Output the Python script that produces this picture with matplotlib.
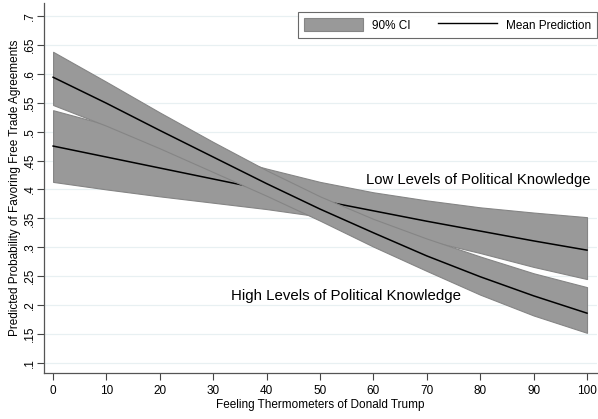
import matplotlib.pyplot as plt
from matplotlib.patches import Patch
from matplotlib.lines import Line2D

plt.rcParams['font.family'] = ['Liberation Sans', 'DejaVu Sans']

x = [0, 10, 20, 30, 40, 50, 60, 70, 80, 90, 100]

# low political knowledge
low_mean = [0.475, 0.456, 0.437, 0.418, 0.399, 0.381, 0.363, 0.345, 0.328, 0.311, 0.295]
low_upper = [0.537, 0.512, 0.487, 0.461, 0.436, 0.413, 0.395, 0.381, 0.369, 0.360, 0.352]
low_lower = [0.413, 0.400, 0.388, 0.377, 0.366, 0.353, 0.333, 0.312, 0.290, 0.266, 0.245]

# high political knowledge
high_mean = [0.594, 0.549, 0.502, 0.456, 0.410, 0.366, 0.325, 0.285, 0.249, 0.216, 0.186]
high_upper = [0.638, 0.586, 0.533, 0.482, 0.433, 0.388, 0.349, 0.315, 0.284, 0.255, 0.231]
high_lower = [0.546, 0.510, 0.471, 0.430, 0.389, 0.346, 0.301, 0.259, 0.218, 0.182, 0.152]

yticks = [0.1, 0.15, 0.2, 0.25, 0.3, 0.35, 0.4, 0.45, 0.5, 0.55, 0.6, 0.65, 0.7]
ytick_labels = ['.1', '.15', '.2', '.25', '.3', '.35', '.4', '.45', '.5', '.55', '.6', '.65', '.7']
xticks = [0, 10, 20, 30, 40, 50, 60, 70, 80, 90, 100]

band_col = '#999999'
edge_col = '#858585'

fig = plt.figure(figsize=(5.98, 4.19), dpi=100)
ax = fig.add_axes([0.0736, 0.11, 0.925, 0.883])

for yv in yticks:
    ax.axhline(yv, color='#e8f0f2', lw=0.9, zorder=0)

ax.fill_between(x, low_lower, low_upper, facecolor=band_col, edgecolor=edge_col, lw=0.8, zorder=2)
ax.plot(x, low_mean, color='black', lw=1.1, zorder=3)
ax.fill_between(x, high_lower, high_upper, facecolor=band_col, edgecolor=edge_col, lw=0.8, zorder=4)
ax.plot(x, high_mean, color='black', lw=1.1, zorder=5)

ax.text(58.6, 0.416, 'Low Levels of Political Knowledge', fontsize=10.7, va='center', ha='left', zorder=6)
ax.text(33.3, 0.216, 'High Levels of Political Knowledge', fontsize=10.8, va='center', ha='left', zorder=6)

ax.set_xlim(-1.7, 101.9)
ax.set_ylim(0.0827, 0.7225)
ax.set_xticks(xticks)
ax.set_yticks(yticks)
ax.set_yticklabels(ytick_labels, rotation=90, va='center')
ax.tick_params(axis='both', labelsize=8.5, length=5, color='#444444', width=0.8)
ax.tick_params(axis='x', pad=4)
ax.tick_params(axis='y', pad=1)

for s in ['top', 'right']:
    ax.spines[s].set_visible(False)
for s in ['left', 'bottom']:
    ax.spines[s].set_color('#555555')
    ax.spines[s].set_linewidth(0.9)

ax.set_xlabel('Feeling Thermometers of Donald Trump', fontsize=8.5, labelpad=1)
ax.set_ylabel('Predicted Probability of Favoring Free Trade Agreements', fontsize=8.5, labelpad=2)

handles = [Patch(facecolor=band_col, edgecolor=edge_col, lw=0.8),
           Line2D([0], [0], color='black', lw=1.0)]
leg = ax.legend(handles, ['90% CI', 'Mean Prediction'], ncol=2, loc='upper right',
                bbox_to_anchor=(1.0, 0.976), fontsize=8.5, frameon=True, fancybox=False,
                edgecolor='#444444', handlelength=5.0, handleheight=1.3, columnspacing=2.3,
                borderpad=0.55, handletextpad=0.75, borderaxespad=0)
leg.get_frame().set_linewidth(0.8)

fig.savefig('out.png', dpi=100)
